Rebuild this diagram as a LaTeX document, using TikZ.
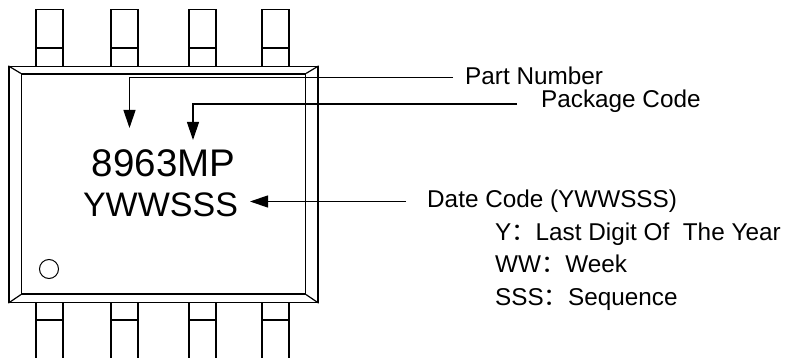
\documentclass[tikz,border=0pt]{standalone}
\usepackage{fontspec}
\setmainfont{Liberation Sans}
\newfontfamily\cjkfont{Noto Sans CJK SC}
\usetikzlibrary{arrows.meta}
\usetikzlibrary{positioning}
\tikzset{
  pinbox/.style={draw,line width=1.2pt,minimum width=27pt,minimum height=57pt,inner sep=0pt},
  bodybox/.style={draw,line width=1.2pt,inner sep=0pt},
  lead/.style={line width=1.2pt,-{Triangle[length=18pt,width=12pt]}},
  lbl/.style={inner sep=0pt,anchor=base west,font=\fontsize{24.3}{28}\selectfont},
  chiptext/.style={inner sep=0pt,anchor=base}
}
\newcommand{\fcolon}{{\cjkfont ：}}
\begin{document}
\begin{tikzpicture}[x=1pt,y=-1pt]
   \useasboundingbox (0,0) rectangle (788,358);
   \node[pinbox] (p1) at (49.5,38) {};
   \node[pinbox] (p2) at (124.5,38) {};
   \node[pinbox] (p3) at (202.5,38) {};
   \node[pinbox] (p4) at (275.5,38) {};
   \node[pinbox] (p5) at (49.5,330) {};
   \node[pinbox] (p6) at (124.5,330) {};
   \node[pinbox] (p7) at (202.5,330) {};
   \node[pinbox] (p8) at (275.5,330) {};
   \draw[line width=1.2pt] (p1.west |- 0,48) -- (p1.east |- 0,48);
   \draw[line width=1.2pt] (p2.west |- 0,48) -- (p2.east |- 0,48);
   \draw[line width=1.2pt] (p3.west |- 0,48) -- (p3.east |- 0,48);
   \draw[line width=1.2pt] (p4.west |- 0,48) -- (p4.east |- 0,48);
   \draw[line width=1.2pt] (p5.west |- 0,320) -- (p5.east |- 0,320);
   \draw[line width=1.2pt] (p6.west |- 0,320) -- (p6.east |- 0,320);
   \draw[line width=1.2pt] (p7.west |- 0,320) -- (p7.east |- 0,320);
   \draw[line width=1.2pt] (p8.west |- 0,320) -- (p8.east |- 0,320);
   \node[bodybox,fill=white,minimum width=309pt,minimum height=236pt] (body) at (163.5,184.5) {};
   \node[bodybox,minimum width=284pt,minimum height=220pt] (top) at (163.5,184) {};
   \draw[line width=1.2pt] (body.north west) -- (top.north west);
   \draw[line width=1.2pt] (body.north east) -- (top.north east);
   \draw[line width=1.2pt] (body.south west) -- (top.south west);
   \draw[line width=1.2pt] (body.south east) -- (top.south east);
   \node[draw,circle,line width=1pt,minimum size=19pt,inner sep=0pt] (dot) at (49,269) {};
   \node[chiptext,font=\fontsize{38.5}{42}\selectfont] (partno) at (163.5,177) {8963MP};
   \node[chiptext,font=\fontsize{34}{38}\selectfont] (date) at (160.5,217) {YWWSSS};
   \node[lbl] (l1) at (465,85) {Part Number};
   \node[lbl] (l2) at (541,108) {Package Code};
   \node[lbl] (l3) at (427,208) {Date Code (YWWSSS)};
   \node[lbl] (l4) at (495,241) {Y\fcolon Last Digit Of\ \ The Year};
   \node[lbl] (l5) at (495,273) {WW\fcolon Week};
   \node[lbl] (l6) at (495,306) {SSS\fcolon Sequence};
   \coordinate (t1) at (129.5,128);
   \coordinate (t2) at (193,140);
   \coordinate (t3) at (250,201.5);
   \coordinate (e1) at (453,77.5);
   \coordinate (e2) at (517,104);
   \coordinate (e3) at (406,201.5);
   \draw[lead] (e1) -| (t1);
   \draw[lead] (e2) -| (t2);
   \draw[lead] (e3) -- (t3);
\end{tikzpicture}
\end{document}
